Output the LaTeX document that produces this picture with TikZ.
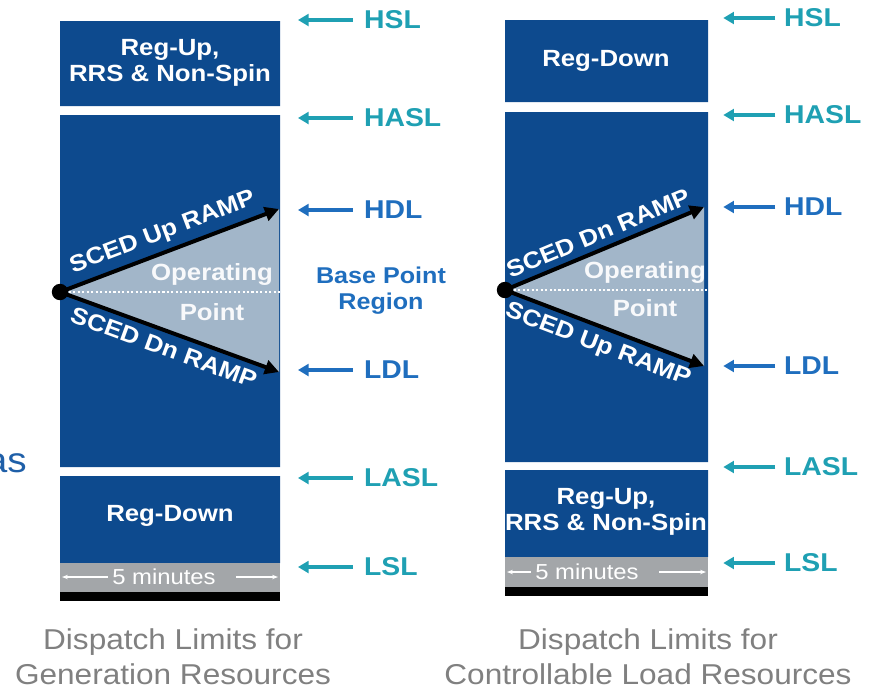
\documentclass[tikz,border=0pt]{standalone}
\usepackage{fontspec}
\setmainfont{Liberation Sans}[FakeStretch=1.1]
\usepackage{tikz}
\usetikzlibrary{arrows.meta}
\definecolor{blockblue}{HTML}{0D4A8E}
\definecolor{opblue}{HTML}{A2B6C9}
\definecolor{band}{HTML}{A3A6A9}
\definecolor{limteal}{HTML}{1FA0B3}
\definecolor{limblue}{HTML}{1F6EBE}
\definecolor{capgrey}{HTML}{808080}
\definecolor{asblue}{HTML}{1F5FA8}

\begin{document}
\begin{tikzpicture}[x=0.03cm,y=-0.03cm,
  lim/.style={anchor=west,font=\fontsize{22}{24}\selectfont\bfseries},
  ptr/.style={line width=3pt,-{Triangle[length=9pt,width=10pt]}},
  ramp/.style={line width=3.4pt,-{Triangle[length=12pt,width=12pt]}},
  inbox/.style={text=white,font=\fontsize{20}{22}\selectfont\bfseries,align=center},
  ramptxt/.style={text=white,font=\fontsize{20}{22}\selectfont\bfseries},
  optxt/.style={text=white!92!opblue,font=\fontsize{20}{22}\selectfont\bfseries},
  mins/.style={text=white,font=\fontsize{18.5}{20}\selectfont},
  minarrow/.style={white,line width=1.3pt,-{Stealth[length=5pt]}},
  capt/.style={text=capgrey,font=\fontsize{24.5}{30}\selectfont,align=center},
  dot/.style={circle,fill=black,inner sep=0pt,minimum size=14pt}]
\useasboundingbox (0,0) rectangle (870,691);
% generation resources
\fill[blockblue](60,21) rectangle (280,106) (60,115) rectangle (280,467) (60,476) rectangle (280,563);
\fill[band](60,563) rectangle (280,592);
\fill[black](60,592) rectangle (280,601);
\coordinate (g0) at (60,292);
\coordinate (ghi) at (279,209);
\coordinate (glo) at (279,372);
\fill[opblue](g0) -- (ghi) -- (glo) -- cycle;
\draw[white,dotted,line width=1.8pt](g0) -- (280,292);
\draw[ramp](g0) -- node[sloped,above=2pt,ramptxt]{SCED Up RAMP} (ghi);
\draw[ramp](g0) -- node[sloped,below=2pt,ramptxt]{SCED Dn RAMP} (glo);
\node[dot](gdot) at (g0){};
\node[optxt](gop) at (212,274){Operating};
\node[optxt](gpt) at (212,312){Point};
\node[inbox](gup) at (170,63){Reg-Up,\\RRS \& Non-Spin};
\node[inbox](gdn) at (170,516){Reg-Down};
\node[mins](gmin) at (164,577){5 minutes};
\draw[minarrow](gmin.west) -- (62,577);
\draw[minarrow]([xshift=14pt]gmin.east) -- (278,577);
\foreach\n/\y/\c in{HSL/20/limteal,HASL/118/limteal,HDL/210/limblue,LDL/370/limblue,LASL/478/limteal,LSL/567/limteal}{
    \node[lim,text=\c](g\n) at (360,\y){\n};
    \draw[ptr,\c]([xshift=-6pt]g\n.west) -- ++(-55,0);
}
\node[text=limblue,font=\fontsize{19.5}{22}\selectfont\bfseries,align=center](bpr) at (381,291){Base Point\\Region};
\node[capt](gcap) at (173,657){Dispatch Limits for\\Generation Resources};
\node[anchor=base east,inner sep=0pt,text=asblue,font=\fontsize{30}{32}\selectfont](as) at (27,472){as};
% controllable load resources
\fill[blockblue](505,20) rectangle (708,102) (505,112) rectangle (708,462) (505,470) rectangle (708,557);
\fill[band](505,557) rectangle (708,587);
\fill[black](505,587) rectangle (708,596);
\coordinate (c0) at (505,290);
\coordinate (chi) at (704,207);
\coordinate (clo) at (704,366);
\fill[opblue](c0) -- (chi) -- (clo) -- cycle;
\draw[white,dotted,line width=1.8pt](c0) -- (708,290);
\draw[ramp](c0) -- node[sloped,above=2pt,ramptxt]{SCED Dn RAMP} (chi);
\draw[ramp](c0) -- node[sloped,below=2pt,ramptxt]{SCED Up RAMP} (clo);
\node[dot](cdot) at (c0){};
\node[optxt](cop) at (645,272){Operating};
\node[optxt](cpt) at (645,308){Point};
\node[inbox](cdn) at (606,61){Reg-Down};
\node[inbox](cup) at (606,512){Reg-Up,\\RRS \& Non-Spin};
\node[mins](cmin) at (587,572){5 minutes};
\draw[minarrow](cmin.west) -- (507,572);
\draw[minarrow]([xshift=14pt]cmin.east) -- (706,572);
\foreach\n/\y/\c in{HSL/18/limteal,HASL/115/limteal,HDL/207/limblue,LDL/366/limblue,LASL/467/limteal,LSL/563/limteal}{
    \node[lim,text=\c](c\n) at (780,\y){\n};
    \draw[ptr,\c]([xshift=-4pt]c\n.west) -- ++(-52,0);
}
\node[capt](ccap) at (648,657){Dispatch Limits for\\Controllable Load Resources};
\end{tikzpicture}
\end{document}
